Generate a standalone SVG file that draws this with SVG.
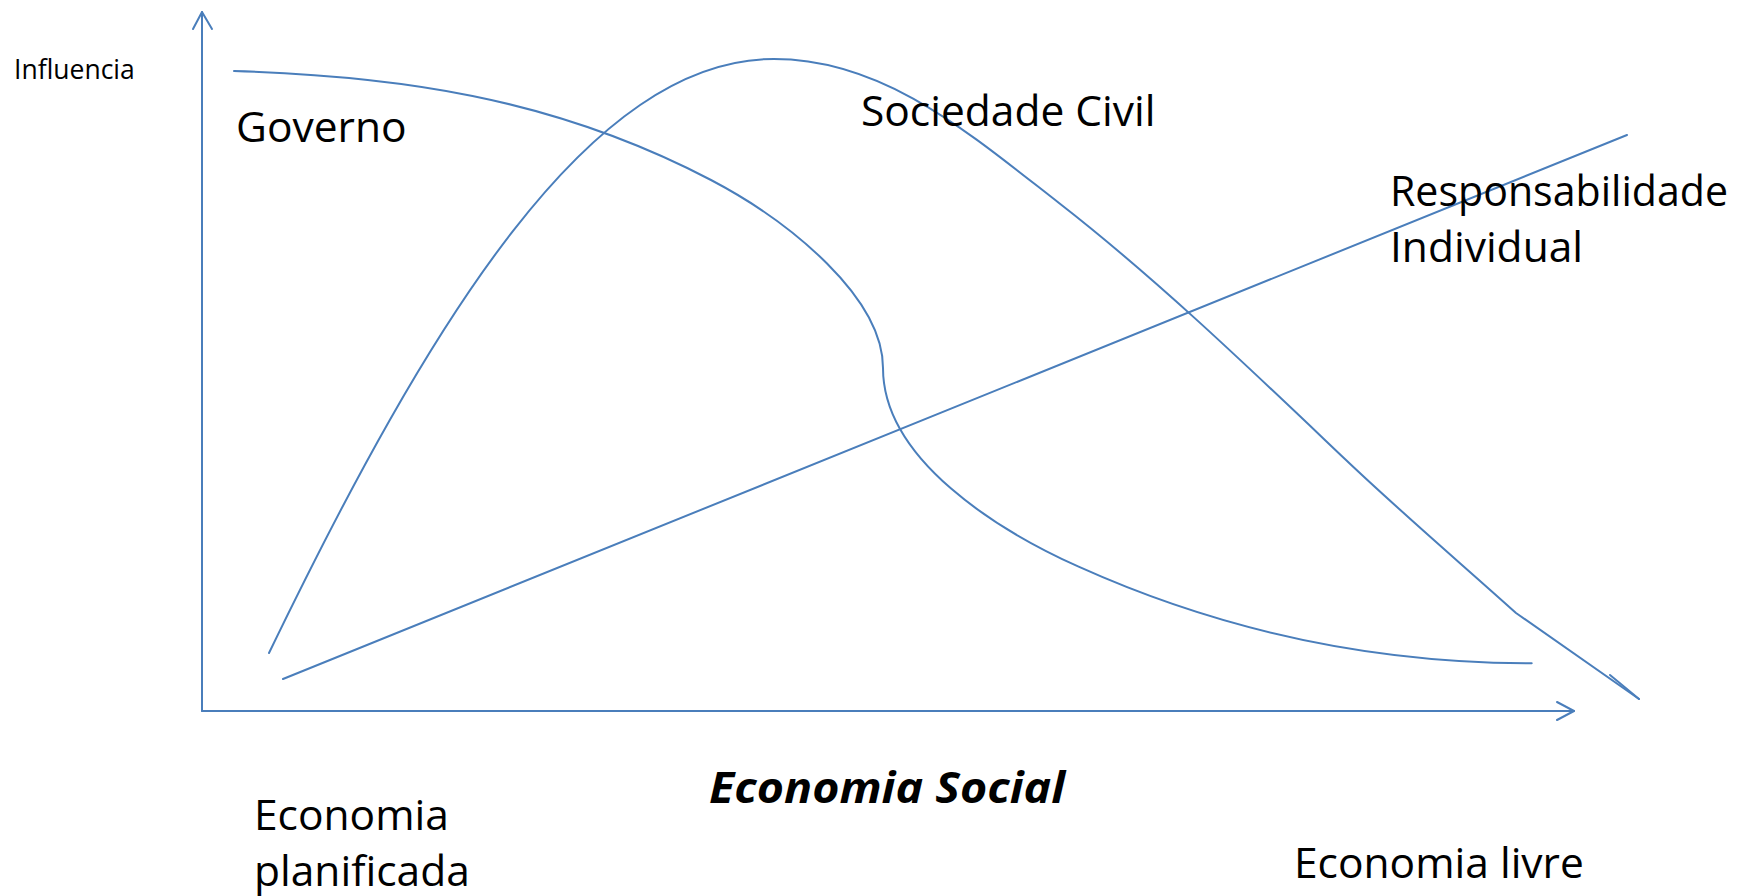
<svg xmlns="http://www.w3.org/2000/svg" width="1737" height="896" viewBox="0 0 1737 896">
<style>
.ln{fill:none;stroke:#4A7EBB;stroke-width:2;stroke-linecap:round;stroke-linejoin:round}
.t{font-family:"Open Sans","Liberation Sans",sans-serif;fill:#000}
.big{font-size:42.5px}
.sm{font-size:26.5px}
.bi{font-weight:bold;font-style:italic}
</style>
<rect width="1737" height="896" fill="#fff"/>
<g id="connectors">
<g id="y-axis">
<path class="ln" d="M202,711 L202,12"/>
<path class="ln" d="M193,29 L202,12 L212,29"/>
</g>
<g id="x-axis">
<path class="ln" d="M202,711 L1574,711"/>
<path class="ln" d="M1557,702 L1574,711 L1557,720"/>
</g>
<g id="curve-governo">
<path class="ln" d="M234,71 C394,76 551,96.2 711,180 C791,222 883,298 883,368 C883,460 998.6,530.7 1078.6,566.7 C1208.6,625.2 1361.7,663.3 1531.7,663.3"/>
</g>
<g id="curve-sociedade">
<path class="ln" d="M269,653 C430,320 590,59 774,59 C884,59 969,133 1059,203 C1159,280.7 1256,374.5 1346,460 C1401,512.3 1461,563.5 1516,613 L1639,699"/>
<path class="ln" d="M1610,675 L1639,699"/>
</g>
<g id="line-individual">
<path class="ln" d="M283,679 L1627,135"/>
</g>
</g>
<g id="label-influencia"><text class="t sm" x="14" y="79">Influencia</text></g>
<g id="node-governo"><text class="t big" x="236" y="141.5">Governo</text></g>
<g id="node-sociedade"><text class="t big" x="861" y="126">Sociedade Civil</text></g>
<g id="node-responsabilidade"><text class="t big" x="1390" y="206" textLength="338" lengthAdjust="spacingAndGlyphs">Responsabilidade</text><text class="t big" x="1390" y="262">Individual</text></g>
<g id="label-economia-social"><text class="t big bi" x="709" y="803" textLength="356" lengthAdjust="spacingAndGlyphs">Economia Social</text></g>
<g id="label-planificada"><text class="t big" x="254" y="830">Economia</text><text class="t big" x="254" y="886">planificada</text></g>
<g id="label-livre"><text class="t big" x="1294" y="878">Economia livre</text></g>
</svg>
